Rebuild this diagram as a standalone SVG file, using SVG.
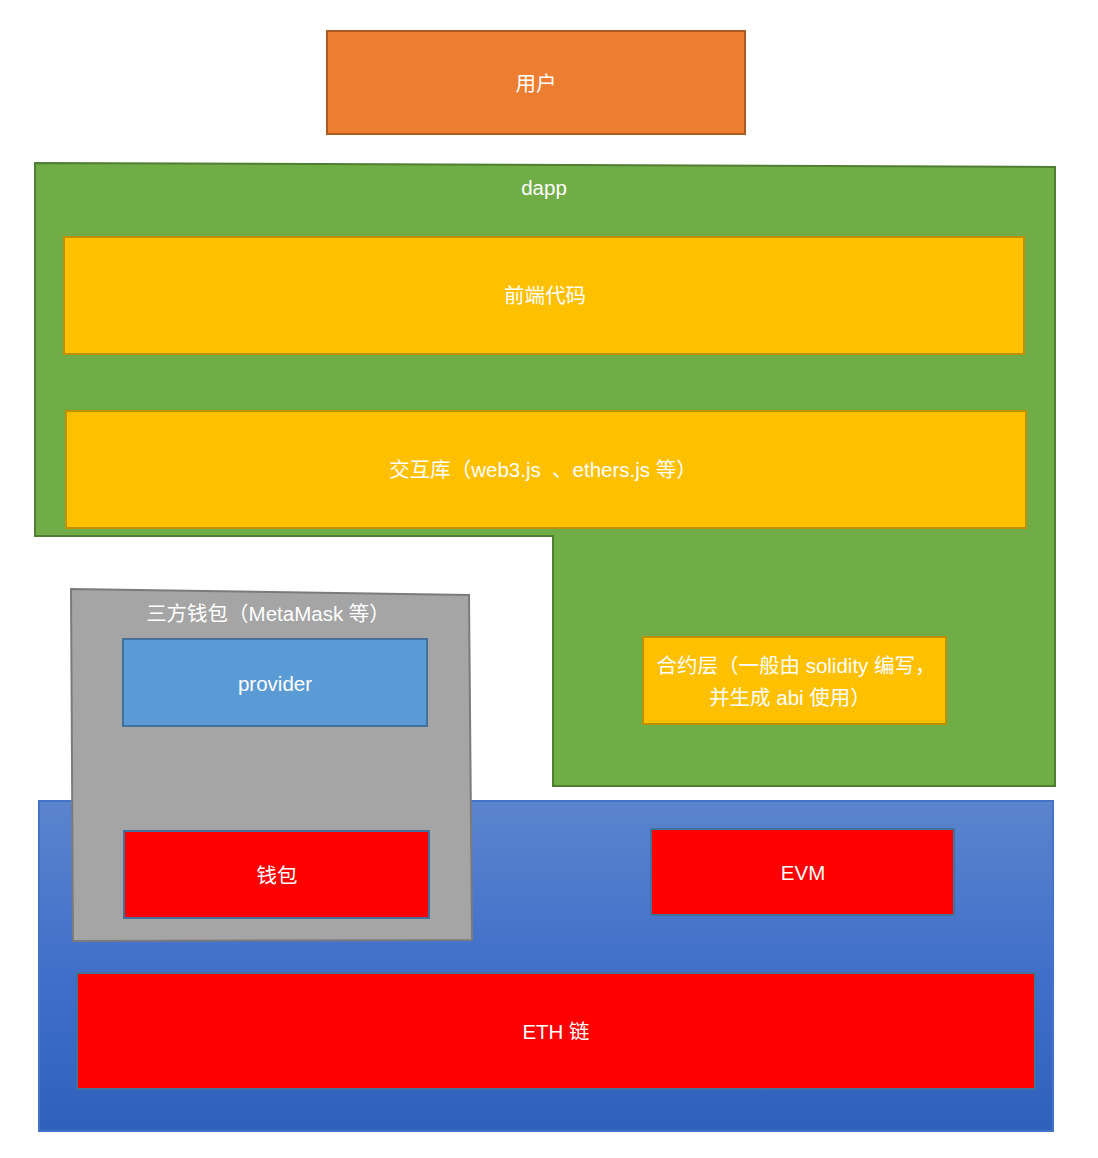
<svg xmlns="http://www.w3.org/2000/svg" width="1098" height="1158" viewBox="0 0 1098 1158">
<style>
text{font-family:"Liberation Sans","Noto Sans CJK SC",sans-serif;font-size:20.5px;fill:#fff;text-anchor:middle;dominant-baseline:central;white-space:pre}
.yel{fill:#FFC000;stroke:#BF9000;stroke-width:2}
.red{fill:#FF0000;stroke:#41719C;stroke-width:2}
</style>
<defs>
<linearGradient id="bg" x1="0" y1="0" x2="0" y2="1">
<stop offset="0" stop-color="#5C84CD"/>
<stop offset="0.5" stop-color="#4170CA"/>
<stop offset="1" stop-color="#2E61BA"/>
</linearGradient>
</defs>
<g id="user"><rect x="327" y="31" width="418" height="103" fill="#ED7D31" stroke="#AE5A21" stroke-width="2"/><text x="536" y="83">用户</text></g>
<g id="chain-bg"><rect x="39" y="801" width="1014" height="330" fill="url(#bg)" stroke="#4472C4" stroke-width="2"/></g>
<g id="dapp"><polygon points="35,163 1055,167 1055,786 553,786 553,536 35,536" fill="#70AD47" stroke="#507E32" stroke-width="2"/><text x="544" y="187">dapp</text></g>
<g id="frontend"><rect class="yel" x="64" y="237" width="960" height="117"/><text x="545" y="295">前端代码</text></g>
<g id="lib"><rect class="yel" x="66" y="411" width="960" height="117"/><text x="543" y="469" xml:space="preserve">交互库（web3.js  、ethers.js 等）</text></g>
<g id="contract"><rect class="yel" x="643" y="637" width="303" height="87"/><text x="796" y="665">合约层（一般由 solidity 编写，</text><text x="790" y="697">并生成 abi 使用）</text></g>
<g id="wallet-app"><polygon points="71,589 469,595 472,940 73,941" fill="#A5A5A5" stroke="#7B7B7B" stroke-width="2"/><text x="268" y="613">三方钱包（MetaMask 等）</text></g>
<g id="provider"><rect x="123" y="639" width="304" height="87" fill="#5B9BD5" stroke="#41719C" stroke-width="2"/><text x="275" y="683">provider</text></g>
<g id="wallet"><rect class="red" x="124" y="831" width="305" height="87"/><text x="277" y="875">钱包</text></g>
<g id="evm"><rect class="red" x="651" y="829" width="303" height="86"/><text x="803" y="872">EVM</text></g>
<g id="eth"><rect class="red" x="77" y="973" width="958" height="116"/><text x="556" y="1031">ETH 链</text></g>
<g id="connectors"></g>
</svg>
